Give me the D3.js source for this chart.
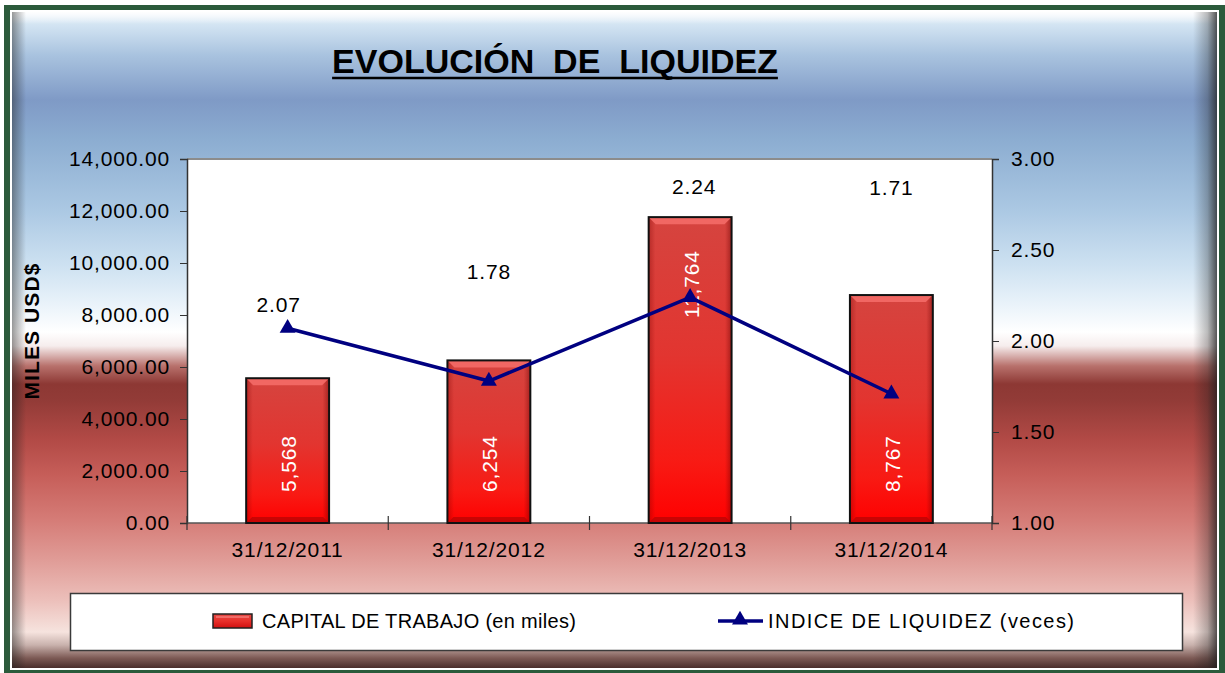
<!DOCTYPE html>
<html>
<head>
<meta charset="utf-8">
<script src="https://cdn.jsdelivr.net/npm/d3@7"></script>
<style>
  html, body { margin: 0; padding: 0; background: #ffffff; }
  svg { display: block; font-family: "Liberation Sans", Arial, sans-serif; }
</style>
</head>
<body>
<svg id="chart" width="1225" height="673"></svg>
<script>
// Chart data
const categories = ["31/12/2011", "31/12/2012", "31/12/2013", "31/12/2014"];
const capitalTrabajo = [5568, 6254, 11764, 8767];
const indiceLiquidez = [2.07, 1.78, 2.24, 1.71];
const leftTicks = [0, 2000, 4000, 6000, 8000, 10000, 12000, 14000];
const rightTicks = [1.0, 1.5, 2.0, 2.5, 3.0];
const seriesNames = ["CAPITAL DE TRABAJO (en miles)", "INDICE DE LIQUIDEZ (veces)"];
const chartTitle = "EVOLUCIÓN  DE  LIQUIDEZ";
const axisTitle = "MILES USD$";

// Label placement (pixels): line labels offset from their point, bar labels lifted from the base
const lineLabelDx = [-9, 0, 4, 0];
const lineLabelDy = [-24, -110, -111, -206];
const barLabelLift = [31, 31, 205, 31];

const W = 1225, H = 673;
const FS = 21;          // general label size
const LS = "0.85px";    // letter spacing used on labels
const svg = d3.select("#chart");
const defs = svg.append("defs");

function linGrad(id, x1, y1, x2, y2, stops) {
  const g = defs.append("linearGradient").attr("id", id)
    .attr("x1", x1).attr("y1", y1).attr("x2", x2).attr("y2", y2);
  stops.forEach(s => g.append("stop").attr("offset", s[0]).attr("stop-color", s[1])
    .attr("stop-opacity", s[2] === undefined ? 1 : s[2]));
  return g;
}

// ---- Frame and panel background ----
const panel = { x: 12, y: 12, w: 1205, h: 656 };
const bgStops = [
  [12, "#eef5fb"], [24, "#d4e5f3"], [55, "#a9c3df"], [100, "#7f9ac6"],
  [140, "#8cadd1"], [210, "#abc8e3"], [265, "#cde1f1"], [305, "#eaf3fa"],
  [332, "#ffffff"], [346, "#f6eded"], [366, "#b8716c"], [384, "#8d3834"],
  [400, "#923b37"], [440, "#b24a46"], [475, "#c65e59"], [520, "#d57c77"],
  [560, "#e09c97"], [600, "#ecbfba"], [632, "#f6e3de"], [645, "#c9b2ad"],
  [658, "#7d5a55"], [668, "#4a2e2b"]
];
linGrad("bgGrad", 0, 0, 0, 1,
  bgStops.map(s => [((s[0] - panel.y) / panel.h).toFixed(4), s[1]]));

svg.append("rect").attr("x", 0).attr("y", 0).attr("width", W).attr("height", H).attr("fill", "#ffffff");
svg.append("rect").attr("x", 4).attr("y", 5).attr("width", W - 4).attr("height", H - 5).attr("fill", "#2b5a3b");
svg.append("rect").attr("x", 10).attr("y", 10).attr("width", 1209).attr("height", 660).attr("fill", "#ffffff");
svg.append("rect").attr("x", panel.x).attr("y", panel.y).attr("width", panel.w).attr("height", panel.h)
  .attr("fill", "url(#bgGrad)");

// Bevel shading around the panel edges
linGrad("bevelTop", 0, 0, 0, 1, [[0, "#ffffff", 0.9], [1, "#ffffff", 0]]);
linGrad("bevelLeft", 0, 0, 1, 0, [[0, "#1e1e1e", 0.45], [1, "#1e1e1e", 0]]);
linGrad("bevelRight", 0, 0, 1, 0, [[0, "#1e1e1e", 0], [0.6, "#1e1e1e", 0.3], [1, "#1e1e1e", 0.75]]);
svg.append("rect").attr("x", panel.x).attr("y", panel.y).attr("width", panel.w).attr("height", 12)
  .attr("fill", "url(#bevelTop)");
svg.append("rect").attr("x", panel.x).attr("y", panel.y).attr("width", 14).attr("height", panel.h)
  .attr("fill", "url(#bevelLeft)");
svg.append("rect").attr("x", panel.x + panel.w - 24).attr("y", panel.y).attr("width", 24).attr("height", panel.h)
  .attr("fill", "url(#bevelRight)");

// ---- Title ----
const title = svg.append("text")
  .attr("x", 555).attr("y", 73)
  .attr("text-anchor", "middle")
  .attr("font-size", 34).attr("font-weight", "bold").attr("fill", "#000000")
  .style("white-space", "pre")
  .text(chartTitle);
const tb = title.node().getBBox();
svg.append("line").attr("x1", tb.x).attr("x2", tb.x + tb.width)
  .attr("y1", 78).attr("y2", 78).attr("stroke", "#000000").attr("stroke-width", 2.5);

// ---- Plot area ----
const plot = { left: 187, right: 992, top: 159, bottom: 523 };

svg.append("rect").attr("x", plot.left).attr("y", plot.top)
  .attr("width", plot.right - plot.left).attr("height", plot.bottom - plot.top)
  .attr("fill", "#ffffff");
svg.append("line").attr("x1", plot.left).attr("x2", plot.right)
  .attr("y1", plot.top).attr("y2", plot.top).attr("stroke", "#8c8c8c").attr("stroke-width", 2);

const x = d3.scaleBand().domain(categories).range([plot.left, plot.right]).padding(0);
const yL = d3.scaleLinear().domain([0, 14000]).range([plot.bottom, plot.top]);
const yR = d3.scaleLinear().domain([1, 3]).range([plot.bottom, plot.top]);

const fmtL = d3.format(",.2f");
const fmtR = d3.format(".2f");

function styleTickText(sel) {
  sel.attr("font-size", FS).attr("fill", "#000000").style("letter-spacing", LS)
    .attr("font-family", "'Liberation Sans', Arial, sans-serif");
}

// Left axis
const axL = svg.append("g").attr("transform", `translate(${plot.left},0)`)
  .call(d3.axisLeft(yL).tickValues(leftTicks).tickFormat(fmtL).tickSizeOuter(0).tickSize(7).tickPadding(10));
axL.select(".domain").attr("stroke", "#333333").attr("stroke-width", 1.5);
axL.selectAll(".tick line").attr("stroke", "#333333");
axL.selectAll(".tick text").call(styleTickText);

// Right axis
const axR = svg.append("g").attr("transform", `translate(${plot.right},0)`)
  .call(d3.axisRight(yR).tickValues(rightTicks).tickFormat(fmtR).tickSizeOuter(0).tickSize(7).tickPadding(12));
axR.select(".domain").attr("stroke", "#333333").attr("stroke-width", 1.5);
axR.selectAll(".tick line").attr("stroke", "#333333");
axR.selectAll(".tick text").call(styleTickText);

// Category axis: labels at band centres, cross ticks at band edges
const axB = svg.append("g").attr("transform", `translate(0,${plot.bottom})`);
axB.append("line").attr("x1", plot.left).attr("x2", plot.right).attr("y1", 0).attr("y2", 0)
  .attr("stroke", "#555555").attr("stroke-width", 1.5);
const edges = categories.map(c => x(c)).concat([x(categories[categories.length - 1]) + x.bandwidth()]);
axB.selectAll("line.edge").data(edges).join("line").attr("class", "edge")
  .attr("x1", d => d).attr("x2", d => d).attr("y1", -7).attr("y2", 7)
  .attr("stroke", "#333333").attr("stroke-width", 1.2);
axB.selectAll("text").data(categories).join("text")
  .attr("x", d => x(d) + x.bandwidth() / 2).attr("y", 34)
  .attr("text-anchor", "middle").call(styleTickText)
  .text(d => d);

// Axis title
svg.append("text")
  .attr("transform", `translate(39,331) rotate(-90)`)
  .attr("text-anchor", "middle")
  .attr("font-size", 21).attr("font-weight", "bold").attr("fill", "#000000")
  .style("letter-spacing", "1.1px")
  .text(axisTitle);

// ---- Bars ----
linGrad("barGrad", 0, 0, 0, 1, [[0, "#d5443f"], [0.45, "#e23530"], [0.8, "#f81a14"], [1, "#ff0000"]]);
linGrad("barSide", 0, 0, 1, 0, [[0, "#7a0000", 0.35], [0.08, "#7a0000", 0], [0.92, "#7a0000", 0], [1, "#5a0000", 0.45]]);

const barW = x.bandwidth() * 0.412;
const bars = svg.append("g");
const barData = categories.map((c, i) => ({ c, v: capitalTrabajo[i], i }));
const barX = d => x(d.c) + (x.bandwidth() - barW) / 2;

bars.selectAll("rect.bar").data(barData).join("rect").attr("class", "bar")
  .attr("x", barX).attr("y", d => yL(d.v))
  .attr("width", barW).attr("height", d => yL(0) - yL(d.v))
  .attr("fill", "url(#barGrad)");
bars.selectAll("rect.side").data(barData).join("rect").attr("class", "side")
  .attr("x", barX).attr("y", d => yL(d.v))
  .attr("width", barW).attr("height", d => yL(0) - yL(d.v))
  .attr("fill", "url(#barSide)");
// top bevel highlight
bars.selectAll("path.bevel").data(barData).join("path").attr("class", "bevel")
  .attr("d", d => {
    const x0 = barX(d), y0 = yL(d.v), b = 7;
    return `M${x0},${y0}L${x0 + barW},${y0}L${x0 + barW - b},${y0 + b}L${x0 + b},${y0 + b}Z`;
  })
  .attr("fill", "#f16763");
// bottom bevel shade
bars.selectAll("path.bevelB").data(barData).join("path").attr("class", "bevelB")
  .attr("d", d => {
    const x0 = barX(d), y1 = yL(0), b = 6;
    return `M${x0},${y1}L${x0 + barW},${y1}L${x0 + barW - b},${y1 - b}L${x0 + b},${y1 - b}Z`;
  })
  .attr("fill", "#b50606").attr("opacity", 0.75);
bars.selectAll("rect.outline").data(barData).join("rect").attr("class", "outline")
  .attr("x", barX).attr("y", d => yL(d.v))
  .attr("width", barW).attr("height", d => yL(0) - yL(d.v))
  .attr("fill", "none").attr("stroke", "#111111").attr("stroke-width", 2);

// Bar value labels (vertical, white)
const fmtInt = d3.format(",");
svg.append("g").selectAll("text").data(barData).join("text")
  .attr("transform", d => `translate(${x(d.c) + x.bandwidth() / 2 + 1},${yL(0) - barLabelLift[d.i]}) rotate(-90)`)
  .attr("text-anchor", "start").attr("dominant-baseline", "central")
  .attr("font-size", FS).style("letter-spacing", LS).attr("fill", "#ffffff")
  .text(d => fmtInt(d.v));

// ---- Line series ----
const linePts = categories.map((c, i) => ({ c, v: indiceLiquidez[i], i }));
const lineGen = d3.line().x(d => x(d.c) + x.bandwidth() / 2).y(d => yR(d.v));
svg.append("path").datum(linePts).attr("d", lineGen)
  .attr("fill", "none").attr("stroke", "#000080").attr("stroke-width", 3.5).attr("stroke-linejoin", "round");

const tri = d3.symbol().type(d3.symbolTriangle).size(110);
svg.append("g").selectAll("path").data(linePts).join("path")
  .attr("transform", d => `translate(${x(d.c) + x.bandwidth() / 2},${yR(d.v)})`)
  .attr("d", tri).attr("fill", "#000080");

svg.append("g").selectAll("text").data(linePts).join("text")
  .attr("x", d => x(d.c) + x.bandwidth() / 2 + lineLabelDx[d.i])
  .attr("y", d => yR(d.v) + lineLabelDy[d.i])
  .attr("text-anchor", "middle").attr("dominant-baseline", "central")
  .attr("font-size", FS).style("letter-spacing", LS).attr("fill", "#000000")
  .text(d => fmtR(d.v));

// ---- Legend ----
const lg = svg.append("g");
lg.append("rect").attr("x", 70.5).attr("y", 593.5).attr("width", 1112).attr("height", 57)
  .attr("fill", "#ffffff").attr("stroke", "#3a3a3a").attr("stroke-width", 1.5);

linGrad("swGrad", 0, 0, 0, 1, [[0, "#e24a45"], [0.5, "#e8302b"], [1, "#d01010"]]);
lg.append("rect").attr("x", 213).attr("y", 614).attr("width", 39).attr("height", 14)
  .attr("fill", "url(#swGrad)").attr("stroke", "#222222").attr("stroke-width", 1.5);
lg.append("line").attr("x1", 216).attr("x2", 249).attr("y1", 617).attr("y2", 617)
  .attr("stroke", "#f37a76").attr("stroke-width", 1.5);
lg.append("text").attr("x", 262).attr("y", 621).attr("dominant-baseline", "central")
  .attr("font-size", 20).attr("fill", "#000000")
  .attr("textLength", 314).attr("lengthAdjust", "spacing")
  .text(seriesNames[0]);

lg.append("line").attr("x1", 718).attr("x2", 763).attr("y1", 621).attr("y2", 621)
  .attr("stroke", "#000080").attr("stroke-width", 3.5);
lg.append("path").attr("transform", "translate(740,620)").attr("d", tri).attr("fill", "#000080");
lg.append("text").attr("x", 768).attr("y", 621).attr("dominant-baseline", "central")
  .attr("font-size", 20).attr("fill", "#000000")
  .attr("textLength", 306).attr("lengthAdjust", "spacing")
  .text(seriesNames[1]);
</script>
</body>
</html>
